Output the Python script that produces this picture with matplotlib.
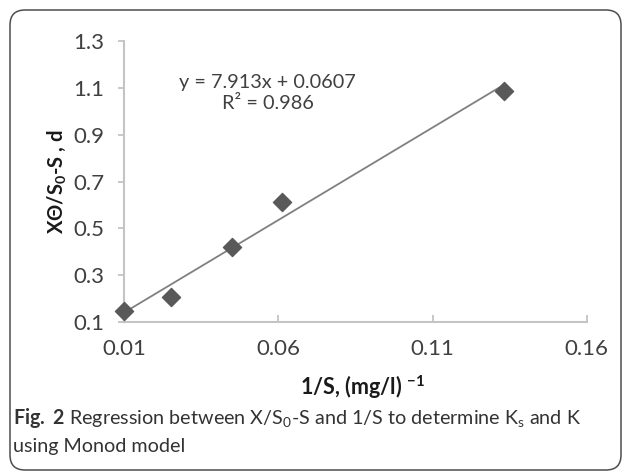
import matplotlib
matplotlib.use("Agg")
import matplotlib.pyplot as plt
from matplotlib.patches import FancyBboxPatch

# data
inv_s = [0.010, 0.0253, 0.045, 0.0613, 0.133]
y_val = [0.145, 0.206, 0.420, 0.613, 1.087]
slope = 7.913
intercept = 0.0607
x_ticks = [0.01, 0.06, 0.11, 0.16]
y_ticks = [0.1, 0.3, 0.5, 0.7, 0.9, 1.1, 1.3]

plt.rcParams['font.family'] = ['Lato', 'DejaVu Sans']
plt.rcParams['mathtext.fontset'] = 'custom'
plt.rcParams['mathtext.rm'] = 'Lato'
plt.rcParams['mathtext.bf'] = 'Lato:bold'
plt.rcParams['mathtext.it'] = 'Lato:italic'

txt = '#404040'
fig = plt.figure(figsize=(6.27, 4.74), dpi=100)
ax = fig.add_axes([0.198, 0.321, 0.738, 0.592])

# trend line across the data range
x_fit = [min(inv_s), max(inv_s)]
y_fit = [slope * v + intercept for v in x_fit]
ax.plot(x_fit, y_fit, color='#808080', lw=1.3, zorder=2)
ax.scatter(inv_s, y_val, marker='D', s=85, color='#595959', zorder=3, clip_on=False)

ax.set_xlim(0.01, 0.16)
ax.set_ylim(0.1, 1.3)
ax.set_xticks(x_ticks)
ax.set_xticklabels(['0.01', '0.06', '0.11', '0.16'])
ax.set_yticks(y_ticks)
ax.set_yticklabels(['%.1f' % v for v in y_ticks])

for s in ['top', 'right']:
    ax.spines[s].set_visible(False)
for s in ['left', 'bottom']:
    ax.spines[s].set_color('#c4c4c4')
    ax.spines[s].set_linewidth(1.5)
ax.tick_params(axis='y', direction='out', length=4, width=1.3, color='#c4c4c4',
               labelsize=16, labelcolor=txt, pad=10)
ax.tick_params(axis='x', direction='in', length=5, width=1.3, color='#c4c4c4',
               labelsize=16, labelcolor=txt, pad=12)

ax.set_ylabel('XΘ/S$_\\mathbf{0}$-S , d', fontsize=14.5, fontweight='bold',
              color='#1a1a1a', va='center', ha='center')
ax.yaxis.set_label_coords(-0.146, 0.5)
ax.set_xlabel('1/S, (mg/l) $^{\\mathbf{-1}}$', fontsize=15.5, fontweight='bold',
              color='#1a1a1a', va='center', ha='center')
ax.xaxis.set_label_coords(0.514, -0.232)

ax.text(0.31, 0.815, 'y = 7.913x + 0.0607\nR² = 0.986', transform=ax.transAxes,
        ha='center', va='center', fontsize=14.3, color=txt, linespacing=1.25)

# caption
fig.text(0.021, 0.118,
         '$\\mathbf{Fig.\\ 2}$ Regression between X/S$_0$-S and 1/S to determine K$_\\mathrm{s}$ and K',
         fontsize=14.2, color='#333333', va='center')
fig.text(0.021, 0.058, 'using Monod model', fontsize=14.2, color='#333333',
         va='center')

# rounded frame
frame = FancyBboxPatch((0.10, 0.04), 6.11, 4.60, boxstyle='round,pad=0,rounding_size=0.15',
                       transform=fig.dpi_scale_trans, fill=False,
                       edgecolor='#4d4d4d', lw=1.1)
fig.patches.append(frame)

fig.savefig('out.png', dpi=100)
